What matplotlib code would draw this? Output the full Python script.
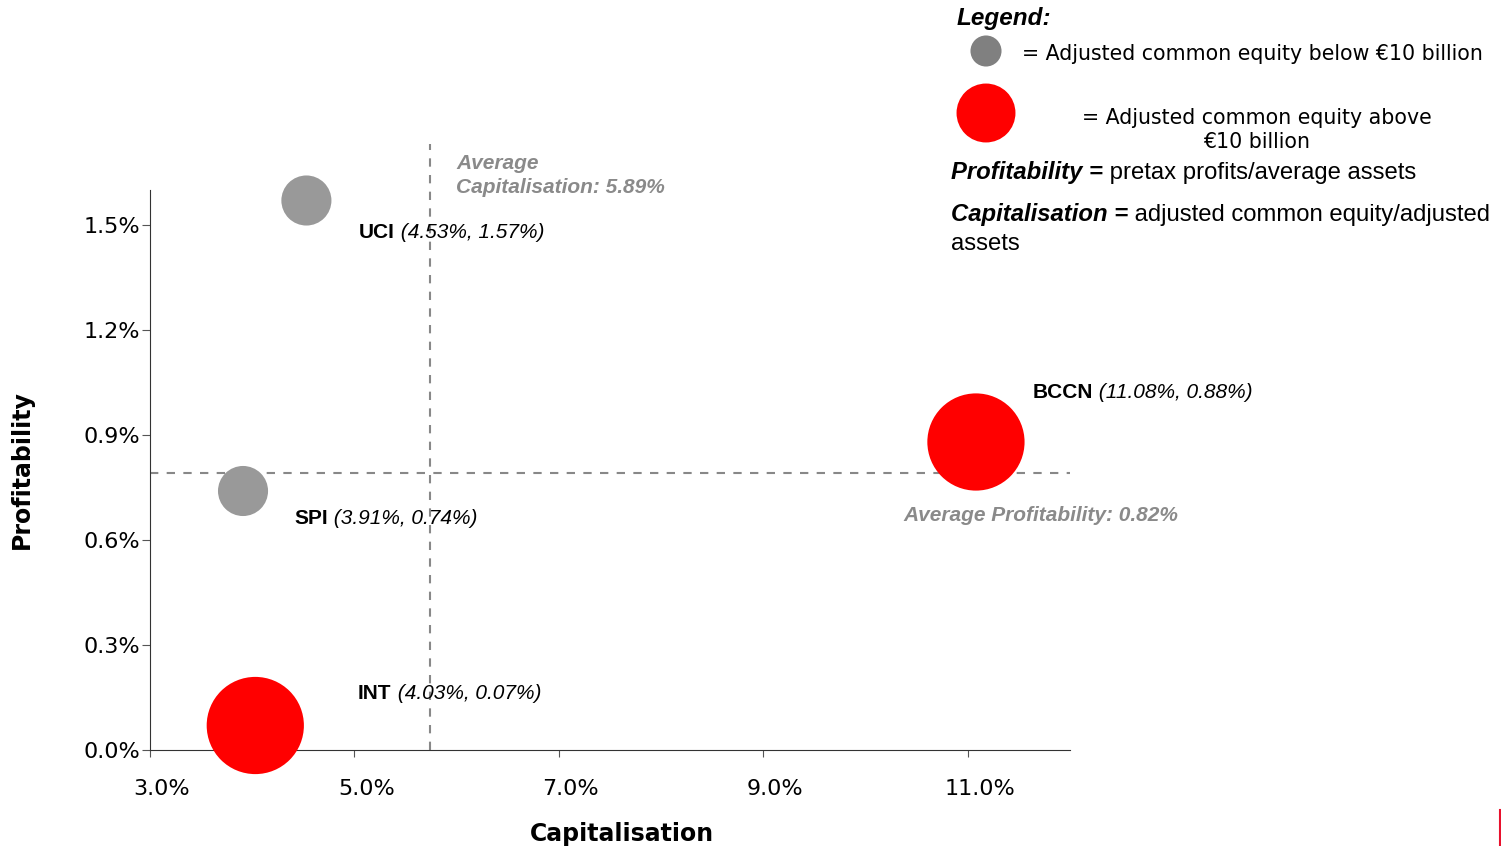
import matplotlib.pyplot as plt
from matplotlib.lines import Line2D
from matplotlib.transforms import ScaledTranslation

# Data
banks = ['UCI', 'SPI', 'INT', 'BCCN']
capitalisation = [4.53, 3.91, 4.03, 11.08]
profitability = [1.57, 0.74, 0.07, 0.88]
above_10bn = [False, False, True, True]

avg_cap_label = 5.89
avg_prof_label = 0.82
avg_cap_line = 5.74   # where the dashed line sits in the picture
avg_prof_line = 0.79

x_ticks = [3.0, 5.0, 7.0, 9.0, 11.0]
y_ticks = [0.0, 0.3, 0.6, 0.9, 1.2, 1.5]

# label offsets in points (dx, dy)
label_offsets = {'UCI': (38, -23), 'SPI': (37, -20), 'INT': (74, 23), 'BCCN': (41, 36)}

GREY = '#999999'
RED = '#ff0000'
AVG = '#8a8a8a'
SANS = 'Liberation Sans'

fig = plt.figure(figsize=(15.01, 8.46), dpi=100)
ax = fig.add_axes([150 / 1501, 96 / 846, 920 / 1501, 560 / 846])

for name, cx, py, big in zip(banks, capitalisation, profitability, above_10bn):
    ax.scatter(cx, py, s=4900 if big else 1300, color=RED if big else GREY,
               edgecolors='none', clip_on=False, zorder=3)
    dx, dy = label_offsets[name]
    t = ax.annotate(name, xy=(cx, py), xytext=(dx, dy), textcoords='offset points',
                    fontsize=15, fontweight='bold', family=SANS, va='center', ha='left')
    ax.annotate(f' ({cx:.2f}%, {py:.2f}%)', xy=(1, 0), xycoords=t, va='bottom', ha='left',
                fontsize=15, fontstyle='italic', family=SANS)

# average lines
ax.plot([avg_cap_line, avg_cap_line], [0, 1.73], ls=(0, (4, 4)), color='#888888', lw=1.5,
        clip_on=False, zorder=1)
ax.plot([3, 12], [avg_prof_line, avg_prof_line], ls=(0, (4, 4)), color='#888888', lw=1.5,
        zorder=1)
ax.annotate(f'Average\nCapitalisation: {avg_cap_label:.2f}%', xy=(avg_cap_line, 1.6),
            xytext=(19, -5), textcoords='offset points', ha='left', va='bottom',
            fontsize=15, fontweight='bold', fontstyle='italic', color=AVG, family=SANS,
            linespacing=1.3, annotation_clip=False)
ax.annotate(f'Average Profitability: {avg_prof_label:.2f}%', xy=(11.08, avg_prof_line),
            xytext=(-52, -30), textcoords='offset points', ha='left', va='center',
            fontsize=15, fontweight='bold', fontstyle='italic', color=AVG, family=SANS)

ax.set_xlim(3, 12)
ax.set_ylim(0, 1.6)
ax.set_xticks(x_ticks)
ax.set_xticklabels([f'{v:.1f}%' for v in x_ticks], fontsize=16)
ax.set_yticks(y_ticks)
ax.set_yticklabels([f'{v:.1f}%' for v in y_ticks], fontsize=16)
ax.tick_params(axis='x', length=5, pad=16, color='#555555')
ax.tick_params(axis='y', length=6, pad=1, color='#555555')
for lab in ax.get_xticklabels():
    lab.set_transform(lab.get_transform() + ScaledTranslation(0.12, 0, fig.dpi_scale_trans))
for s in ['top', 'right']:
    ax.spines[s].set_visible(False)
for s in ['left', 'bottom']:
    ax.spines[s].set_color('#333333')
ax.set_xlabel('Capitalisation', fontsize=17, fontweight='bold')
ax.xaxis.set_label_coords((622 - 150) / 920, -0.128)
ax.set_ylabel('Profitability', fontsize=17, fontweight='bold')
ax.yaxis.set_label_coords((34 - 150) / 920, 0.5)

# legend block in pixel coordinates
lg = fig.add_axes([0, 0, 1, 1], facecolor='none')
lg.set_xlim(0, 1501)
lg.set_ylim(846, 0)
lg.axis('off')
lg.scatter([986], [51], s=500, color='#808080', edgecolors='none')
lg.scatter([986], [113], s=1800, color=RED, edgecolors='none')
lg.text(957, 19, 'Legend:', fontsize=17.5, fontweight='bold', fontstyle='italic', family=SANS,
        va='center')
lg.text(1022, 54, '= Adjusted common equity below €10 billion', fontsize=14.8, va='center')
lg.text(1257, 130, '= Adjusted common equity above\n€10 billion', fontsize=14.8, va='center',
        ha='center', linespacing=1.2)
t1 = lg.text(951, 173, 'Profitability =', fontsize=17.2, fontweight='bold', fontstyle='italic',
             family=SANS, va='center')
lg.annotate(' pretax profits/average assets', xy=(1, 0), xycoords=t1, va='bottom',
            fontsize=17.2, family=SANS)
t2 = lg.text(951, 215, 'Capitalisation =', fontsize=17.2, fontweight='bold', fontstyle='italic',
             family=SANS, va='center')
lg.annotate(' adjusted common equity/adjusted', xy=(1, 0), xycoords=t2, va='bottom',
            fontsize=17.2, family=SANS)
lg.text(951, 244, 'assets', fontsize=17.2, family=SANS, va='center')

fig.add_artist(Line2D([1499.5 / 1501] * 2, [0, 36 / 846], color='#e8112d', lw=1.5))

fig.savefig('out.png', dpi=100)
